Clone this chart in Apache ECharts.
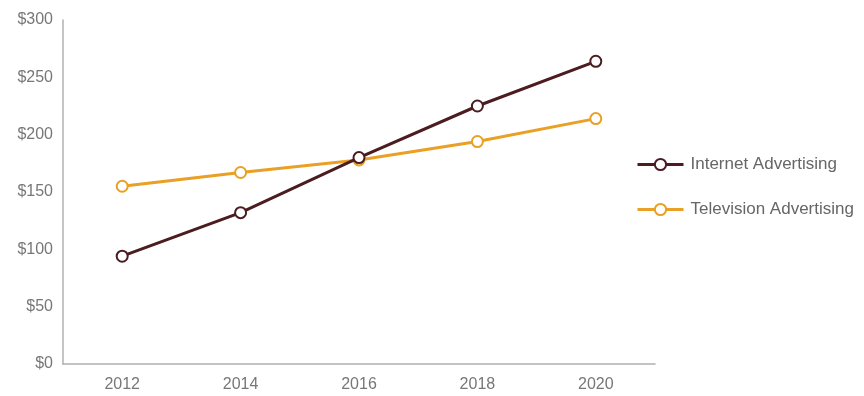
<!DOCTYPE html>
<html><head><meta charset="utf-8">
<script src="https://cdn.jsdelivr.net/npm/echarts@6/dist/echarts.min.js"></script>
<style>html,body{margin:0;padding:0;background:#fff}#c{width:864px;height:396px}</style>
</head><body><div id="c"></div>
<script>
const years = ['2012','2014','2016','2018','2020'];
const internet = [94, 132, 180, 225, 264];
const television = [155, 167, 178, 194, 214];
const yTicks = [0, 50, 100, 150, 200, 250, 300];

const chart = echarts.init(document.getElementById('c'));
const font = 'Liberation Sans, Arial, sans-serif';
chart.setOption({
  animation: false,
  grid: {left: 63, top: 20, right: 209, bottom: 32},
  legend: {
    orient: 'vertical', left: 631, top: 151, itemGap: 28,
    itemWidth: 46, itemHeight: 14,
    lineStyle: {width: 3},
    textStyle: {fontFamily: font, fontSize: 17, color: '#666', padding: [0, 0, 0, 2]},
    data: ['Internet Advertising', 'Television Advertising']
  },
  xAxis: {
    type: 'category', data: years, boundaryGap: true,
    axisLine: {lineStyle: {color: '#b0b0b0', width: 1.5}},
    axisTick: {show: false},
    axisLabel: {fontFamily: font, fontSize: 16, color: '#777', margin: 13}
  },
  yAxis: {
    type: 'value', min: yTicks[0], max: yTicks[yTicks.length-1], interval: 50,
    axisLine: {show: true, lineStyle: {color: '#b0b0b0', width: 1.5}},
    axisTick: {show: false},
    splitLine: {show: false},
    axisLabel: {fontFamily: font, fontSize: 16, color: '#777', margin: 10,
      formatter: v => '$' + v}
  },
  series: [
    {name: 'Internet Advertising', type: 'line', data: internet,
     symbol: 'circle', symbolSize: 11,
     lineStyle: {color: '#4b1c20', width: 3},
     itemStyle: {color: '#fff', borderColor: '#4b1c20', borderWidth: 2}},
    {name: 'Television Advertising', type: 'line', data: television,
     symbol: 'circle', symbolSize: 11, z: 1,
     lineStyle: {color: '#e9a024', width: 3},
     itemStyle: {color: '#fff', borderColor: '#e9a024', borderWidth: 2}}
  ]
});
</script></body></html>
